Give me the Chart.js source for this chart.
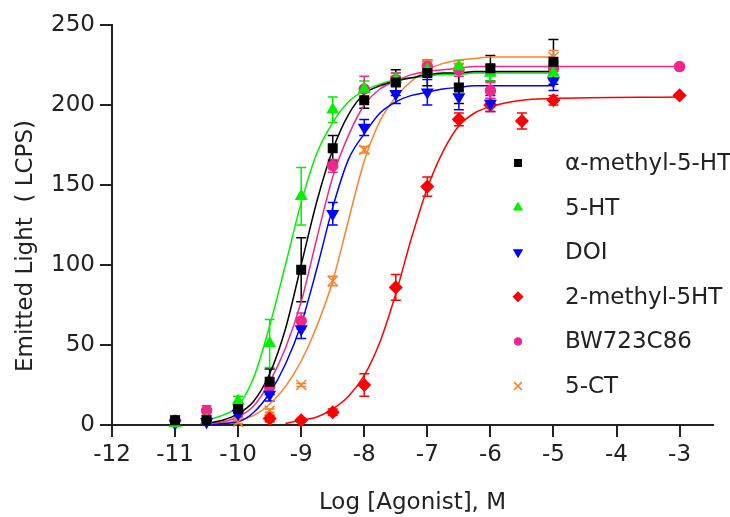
<!DOCTYPE html>
<html>
<head>
<meta charset="utf-8">
<script src="https://cdn.jsdelivr.net/npm/chart.js@4"></script>
<style>
  html, body { margin: 0; padding: 0; background: #fff; }
  #wrap { width: 730px; height: 517px; }
</style>
</head>
<body>
<div id="wrap"><canvas id="chart" width="730" height="517"></canvas></div>
<script>
const doses = [-11, -10.5, -10, -9.5, -9, -8.5, -8, -7.5, -7, -6.5, -6, -5.5, -5, -3];

// mean responses (LCPS) and error bars, null where a compound has no point
const alphaMethyl    = [3, 3, 10, 27, 97, 173, 203, 214, 220, 211, 223, null, 227, null];
const alphaMethylErr = [1, 1, 2, 8, 20, 8, 5, 8, 8, 10, 8, null, 14, null];
const serotonin      = [1, 3, 15, 51, 143, 197, 210, 216, 222, 224, 220, null, 220, null];
const serotoninErr   = [1, 1, 3, 15, 18, 8, 5, 4, 4, 4, 5, null, 5, null];
const doi            = [1, 2, 7, 19, 60, 132, 186, 207, 208, 205, 201, null, 215, null];
const doiErr         = [1, 1, 2, 4, 6, 7, 5, 6, 8, 8, 5, null, 6, null];
const methyl2        = [null, null, null, 4, 3, 8, 25, 86, 149, 191, 200, 190, 203, 206];
const methyl2Err     = [null, null, null, 2, 1, 2, 7, 8, 6, 4, 4, 5, 3, 0];
const bw723          = [3, 9, 9, 24, 65, 162, 210, 216, 224, 222, 209, null, 223, 224];
const bw723Err       = [1, 3, 3, 3, 5, 4, 8, 4, 3, 4, 5, null, 4, 0];
const ct5            = [3, 3, 2, 9, 25, 90, 172, 215, 225, 223, 222, null, 230, null];
const ct5Err         = [0, 0, 1, 1, 1, 3, 2, 3, 3, 3, 3, null, 4, null];

// fitted curves, sampled off the figure
const curveX           = [-10.5, -10.25, -10, -9.75, -9.5, -9.25, -9, -8.75, -8.5, -8.25, -8, -7.75, -7.5, -7.25, -7, -6.75, -6.5, -6.25, -6, -5.5, -5, -3];
const alphaMethylCurve = [1, 3, 7, 15, 32, 60, 100, 140, 172, 194, 207, 212, 215, 217, 219, 220, 220, 221, 221, 221, 221, null];
const serotoninCurve   = [3, 6, 12, 30, 62, 100, 139, 170, 189, 202, 209, 213, 216, 217, 218, 219, 219, 220, 220, 220, 220, null];
const doiCurve         = [0, 1, 2, 8, 20, 38, 63, 98, 136, 166, 182, 195, 202, 206, 208, 210, 211, 212, 212, 212, 212, null];
const methyl2Curve     = [null, null, null, null, null, 1, 3, 5, 10, 18, 31, 52, 82, 117, 148, 171, 187, 195, 199, 203, 204, 205];
const bw723Curve       = [1, 2, 5, 12, 27, 48, 77, 117, 155, 181, 200, 210, 215, 219, 221, 222, 223, 224, 224, 224, 224, 224];
const ct5Curve         = [null, 1, 3, 6, 13, 24, 40, 62, 90, 128, 165, 190, 205, 215, 222, 226, 228, 229, 230, 230, 230, null];

const names = ['α-methyl-5-HT', '5-HT', 'DOI', '2-methyl-5HT', 'BW723C86', '5-CT'];
const means = [alphaMethyl, serotonin, doi, methyl2, bw723, ct5];
const errs = [alphaMethylErr, serotoninErr, doiErr, methyl2Err, bw723Err, ct5Err];
const curves = [alphaMethylCurve, serotoninCurve, doiCurve, methyl2Curve, bw723Curve, ct5Curve];

const colors = ['#000000', '#00f000', '#0000ff', '#ff0000', '#f0288c', '#ff7f2a'];
const styles = ['rect', 'triangle', 'triangle', 'rectRot', 'circle', 'crossRot'];
const rotations = [0, 0, 180, 0, 0, 0];
const radii = [6, 6, 6, 6, 5, 7];

const FONT = '"DejaVu Sans", "Liberation Sans", Arial, sans-serif';
const TEXT = '#222222';

const datasets = [];
names.forEach((name, i) => {
  datasets.push({
    label: name,
    data: doses.map((d, j) => ({ x: d, y: means[i][j] })).filter(p => p.y !== null),
    showLine: false,
    pointStyle: styles[i],
    pointRotation: rotations[i],
    pointRadius: radii[i],
    backgroundColor: colors[i],
    borderColor: colors[i],
    borderWidth: 1.5,
    clip: false,
    order: 0
  });
  datasets.push({
    label: name + ' fit',
    data: curveX.map((x, j) => ({ x: x, y: curves[i][j] })).filter(p => p.y !== null),
    borderColor: colors[i],
    borderWidth: 1.5,
    pointRadius: 0,
    cubicInterpolationMode: 'monotone',
    fill: false,
    order: 1
  });
});

// error bars drawn from the scales
const errorBars = {
  id: 'errorBars',
  beforeDatasetsDraw(chart) {
    const { ctx, scales: { x, y } } = chart;
    ctx.save();
    ctx.lineWidth = 1.5;
    means.forEach((m, i) => {
      ctx.strokeStyle = colors[i];
      doses.forEach((d, j) => {
        if (m[j] === null || !errs[i][j]) return;
        const px = x.getPixelForValue(d);
        const top = y.getPixelForValue(m[j] + errs[i][j]);
        const bot = y.getPixelForValue(Math.max(0, m[j] - errs[i][j]));
        ctx.beginPath();
        ctx.moveTo(px, top); ctx.lineTo(px, bot);
        ctx.moveTo(px - 5, top); ctx.lineTo(px + 5, top);
        ctx.moveTo(px - 5, bot); ctx.lineTo(px + 5, bot);
        ctx.stroke();
      });
    });
    ctx.restore();
  }
};

// legend inside the plot and the rotated y title
const sideLegend = {
  id: 'sideLegend',
  afterDraw(chart) {
    const ctx = chart.ctx;
    ctx.save();
    ctx.font = '23px ' + FONT;
    ctx.textBaseline = 'middle';
    names.forEach((name, i) => {
      const yy = 163 + i * 44.6;
      ctx.fillStyle = colors[i];
      ctx.strokeStyle = colors[i];
      ctx.lineWidth = 1.5;
      Chart.helpers.drawPoint(ctx, {
        pointStyle: styles[i], rotation: rotations[i], radius: radii[i] - 1.5, borderWidth: 1.5
      }, 518, yy);
      ctx.fillStyle = TEXT;
      ctx.fillText(name, 565, yy + 1);
    });
    ctx.translate(26, 246);
    ctx.rotate(-Math.PI / 2);
    ctx.textAlign = 'center';
    ctx.fillStyle = TEXT;
    ctx.fillText('Emitted Light  ( LCPS)', 0, 0);
    ctx.restore();
  }
};

new Chart(document.getElementById('chart'), {
  type: 'line',
  data: { datasets },
  options: {
    responsive: false,
    animation: false,
    layout: { padding: { top: 25, right: 17, left: 0, bottom: 0 } },
    plugins: { legend: { display: false }, tooltip: { enabled: false } },
    scales: {
      x: {
        type: 'linear',
        min: -12,
        max: -2.47,
        afterFit: s => { s.height = 92; },
        border: { color: TEXT, width: 2 },
        grid: { drawOnChartArea: false, tickLength: 12, color: TEXT, lineWidth: 2 },
        ticks: { stepSize: 1, includeBounds: false, autoSkip: false, maxRotation: 0, padding: 4, color: TEXT, font: { family: FONT, size: 23 } },
        title: { display: true, text: 'Log [Agonist], M', color: TEXT, padding: 0, font: { family: FONT, size: 23 } }
      },
      y: {
        min: 0,
        max: 250,
        afterFit: s => { s.width = 112; },
        border: { color: TEXT, width: 2 },
        grid: { drawOnChartArea: false, tickLength: 12, color: TEXT, lineWidth: 2 },
        ticks: { stepSize: 50, padding: 5, color: TEXT, font: { family: FONT, size: 23 } }
      }
    }
  },
  plugins: [errorBars, sideLegend]
});
</script>
</body>
</html>
